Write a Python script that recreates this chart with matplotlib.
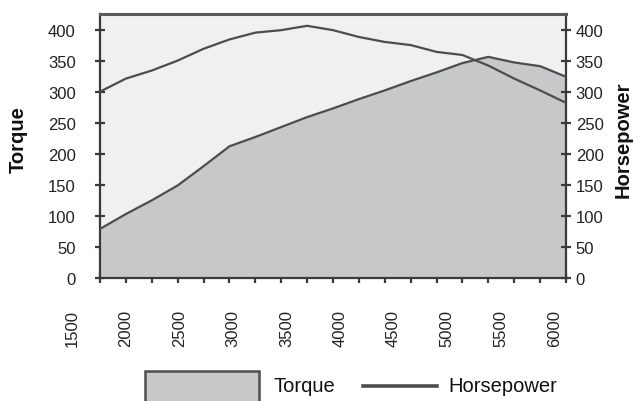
import numpy as np
import matplotlib
matplotlib.use("Agg")
import matplotlib.pyplot as plt
from matplotlib.patches import Rectangle
from matplotlib.lines import Line2D

plt.rcParams['font.family'] = ['Liberation Sans', 'DejaVu Sans']

# ---- data ----
rpm = [1750, 2000, 2250, 2500, 2750, 3000, 3250, 3500, 3750, 4000,
       4250, 4500, 4750, 5000, 5250, 5500, 5750, 6000, 6250]
torque = [79, 103, 125, 149, 180, 212, 227, 243, 259, 273,
          288, 302, 317, 331, 346, 356, 347, 341, 324]
horsepower = [300, 321, 334, 350, 369, 384, 395, 399, 406, 399,
              388, 380, 375, 364, 359, 342, 321, 302, 282]
x_tick_labels = ["1500", "2000", "2500", "3000", "3500",
                 "4000", "4500", "5000", "5500", "6000"]
y_ticks = [0, 50, 100, 150, 200, 250, 300, 350, 400]

W, H = 633, 402
fig = plt.figure(figsize=(W / 100, H / 100), dpi=100)
L, R, T, B = 100, 566, 15, 279
ax = fig.add_axes([L / W, 1 - B / H, (R - L) / W, (B - T) / H])

line_c = '#4d4d4d'
fill_c = '#c6c8ca'
ax.set_facecolor('#f0f0f0')

ax.fill_between(rpm, torque, 0, color=fill_c, lw=0, zorder=2)
ax.plot(rpm, torque, color=line_c, lw=1.6, zorder=3)
ax.plot(rpm, horsepower, color=line_c, lw=1.6, zorder=4)

ax.set_xlim(rpm[0], rpm[-1])
ax.set_ylim(0, 425)

for s in ['left', 'right', 'bottom']:
    ax.spines[s].set_color('#3a3a3a')
    ax.spines[s].set_linewidth(1.6)
ax.spines['top'].set_color('#5a5a5a')
ax.spines['top'].set_linewidth(2.2)

ax.set_yticks(y_ticks)
ax.tick_params(axis='y', which='both', direction='inout', length=7, width=1.6,
               color='#3a3a3a', labelsize=12, labelcolor='#222222',
               left=True, right=True, labelleft=True, labelright=False, pad=14)
ax.set_xticks(rpm)
ax.tick_params(axis='x', direction='inout', length=7, width=1.6,
               color='#3a3a3a', labelbottom=False)

# right side labels via twin axis
ax2 = ax.twinx()
ax2.set_ylim(ax.get_ylim())
ax2.set_yticks(y_ticks)
ax2.tick_params(axis='y', direction='inout', length=7, width=1.6,
                color='#3a3a3a', labelsize=12, labelcolor='#222222', pad=3.5)
for s in ax2.spines.values():
    s.set_visible(False)

# rotated x labels
label_pos = np.linspace(1480, 6136, len(x_tick_labels))
for p, lbl in zip(label_pos, x_tick_labels):
    ax.annotate(lbl, xy=(p, 0), xycoords=('data', 'axes fraction'),
                xytext=(0, -22), textcoords='offset points', rotation=90,
                ha='center', va='top', fontsize=12, color='#222222',
                annotation_clip=False)

fig.text(18 / W, 1 - 140 / H, 'Torque', rotation=90, ha='center', va='center',
         fontsize=14.5, fontweight='bold', color='#111111')
fig.text(623 / W, 1 - 140 / H, 'Horsepower', rotation=90, ha='center', va='center',
         fontsize=14.5, fontweight='bold', color='#111111')

# legend
fig.patches.append(Rectangle((145 / W, 1 - 410 / H), 114 / W, 38 / H,
                             transform=fig.transFigure, facecolor=fill_c,
                             edgecolor=line_c, lw=1.8))
fig.text(273 / W, 1 - 387 / H, 'Torque', ha='left', va='center', fontsize=14.5,
         color='#111111')
fig.lines.append(Line2D([363 / W, 437 / W], [1 - 387 / H, 1 - 387 / H],
                        transform=fig.transFigure, color=line_c, lw=2.6))
fig.text(448 / W, 1 - 387 / H, 'Horsepower', ha='left', va='center', fontsize=14.5,
         color='#111111')

fig.savefig('out.png', dpi=100)
